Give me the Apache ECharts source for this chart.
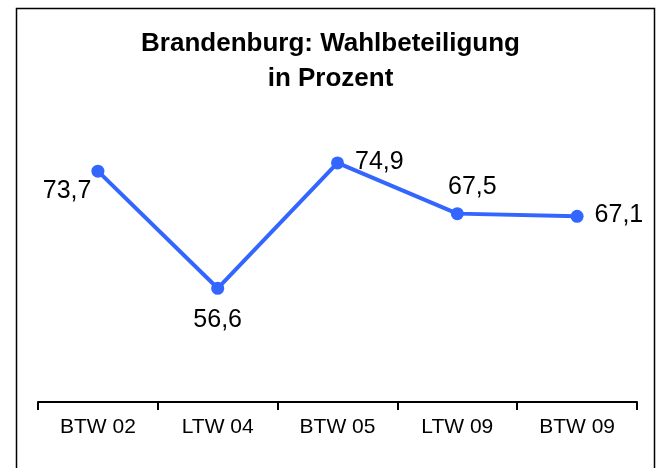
<!DOCTYPE html>
<html>
<head>
<meta charset="utf-8">
<script src="https://cdn.jsdelivr.net/npm/echarts@6/dist/echarts.min.js"></script>
<style>
  html, body { margin: 0; padding: 0; background: #fff; }
  #main { width: 661px; height: 468px; }
</style>
</head>
<body>
<div id="main"></div>
<script>
var categories = ['BTW 02', 'LTW 04', 'BTW 05', 'LTW 09', 'BTW 09'];
var turnout = [73.7, 56.6, 74.9, 67.5, 67.1];
// where each value label sits, as in the picture
var labelPos = ['left', 'bottom', 'right', 'top', 'right'];
var labelOffset = [[8, 20], [0, 5], [3, -1], [15, 0], [3, -1]];

var chart = echarts.init(document.getElementById('main'));

var seriesData = turnout.map(function (v, i) {
    return {
        value: v,
        label: { position: labelPos[i], offset: labelOffset[i] }
    };
});

var option = {
    animation: false,
    graphic: [{
        type: 'rect',
        shape: { x: 16.5, y: 8.5, width: 638, height: 470 },
        style: { fill: 'none', stroke: '#000', lineWidth: 1.5 }
    }],
    title: {
        text: 'Brandenburg: Wahlbeteiligung\nin Prozent',
        left: 'center',
        top: 21,
        textStyle: {
            fontFamily: 'Liberation Sans',
            fontSize: 26,
            fontWeight: 'bold',
            color: '#000',
            lineHeight: 35
        }
    },
    grid: { left: 38, right: 24, top: 128, bottom: 66 },
    xAxis: {
        type: 'category',
        data: categories,
        boundaryGap: true,
        axisLine: { lineStyle: { color: '#000', width: 2 } },
        axisTick: { show: true, length: 8, lineStyle: { color: '#000', width: 2 } },
        axisLabel: {
            margin: 15,
            fontFamily: 'Liberation Sans',
            fontSize: 21,
            color: '#000'
        }
    },
    yAxis: {
        type: 'value',
        min: 40,
        max: 80,
        show: false
    },
    series: [{
        type: 'line',
        data: seriesData,
        symbol: 'circle',
        symbolSize: 13,
        lineStyle: { color: '#3366ff', width: 4 },
        itemStyle: { color: '#3366ff' },
        label: {
            show: true,
            distance: 8,
            fontFamily: 'Liberation Sans',
            fontSize: 25,
            color: '#000',
            formatter: function (p) {
                return String(p.value).replace('.', ',');
            }
        }
    }]
};

chart.setOption(option);
</script>
</body>
</html>
